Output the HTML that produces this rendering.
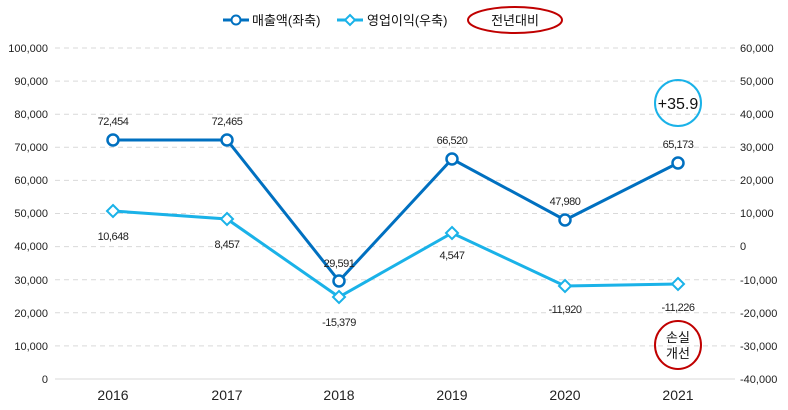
<!DOCTYPE html><html><head><meta charset="utf-8"><style>body{margin:0;background:#fff}svg{display:block;font-family:"Liberation Sans","Noto Sans CJK KR",sans-serif}</style></head><body>
<svg width="788" height="410" viewBox="0 0 788 410">
<g stroke="#d9d9d9" stroke-dasharray="5,4" stroke-width="1">
<line x1="55" x2="735" y1="48" y2="48"/><line x1="55" x2="735" y1="81.1" y2="81.1"/><line x1="55" x2="735" y1="114.2" y2="114.2"/><line x1="55" x2="735" y1="147.3" y2="147.3"/><line x1="55" x2="735" y1="180.4" y2="180.4"/><line x1="55" x2="735" y1="213.5" y2="213.5"/><line x1="55" x2="735" y1="246.6" y2="246.6"/><line x1="55" x2="735" y1="279.7" y2="279.7"/><line x1="55" x2="735" y1="312.8" y2="312.8"/><line x1="55" x2="735" y1="345.9" y2="345.9"/>
</g>
<line x1="55" x2="735" y1="379" y2="379" stroke="#d9d9d9"/>
<g font-size="11" fill="#222" text-anchor="end">
<text x="48" y="52">100,000</text><text x="48" y="85">90,000</text><text x="48" y="118">80,000</text><text x="48" y="151">70,000</text><text x="48" y="184">60,000</text><text x="48" y="217">50,000</text><text x="48" y="250">40,000</text><text x="48" y="284">30,000</text><text x="48" y="317">20,000</text><text x="48" y="350">10,000</text><text x="48" y="383">0</text>
</g>
<g font-size="11" fill="#222">
<text x="740" y="52">60,000</text><text x="740" y="85">50,000</text><text x="740" y="118">40,000</text><text x="740" y="151">30,000</text><text x="740" y="184">20,000</text><text x="740" y="217">10,000</text><text x="740" y="250">0</text><text x="740" y="284">-10,000</text><text x="740" y="317">-20,000</text><text x="740" y="350">-30,000</text><text x="740" y="383">-40,000</text>
</g>
<g font-size="14" fill="#222" text-anchor="middle">
<text x="113" y="400">2016</text><text x="227" y="400">2017</text><text x="339" y="400">2018</text><text x="452" y="400">2019</text><text x="565" y="400">2020</text><text x="678" y="400">2021</text>
</g>
<polyline points="113,140 227,140 339,281 452,159 565,220 678,163" fill="none" stroke="#0070c0" stroke-width="3"/>
<g fill="#fff" stroke="#0070c0" stroke-width="2.5">
<circle cx="113" cy="140" r="5.5"/><circle cx="227" cy="140" r="5.5"/><circle cx="339" cy="281" r="5.5"/><circle cx="452" cy="159" r="5.5"/><circle cx="565" cy="220" r="5.5"/><circle cx="678" cy="163" r="5.5"/>
</g>
<polyline points="113,211 227,219 339,297 452,233 565,286 678,284" fill="none" stroke="#1ab2e8" stroke-width="3"/>
<g fill="#fff" stroke="#1ab2e8" stroke-width="2">
<path d="M113,205 l6,6 -6,6 -6,-6z"/><path d="M227,213 l6,6 -6,6 -6,-6z"/><path d="M339,291 l6,6 -6,6 -6,-6z"/><path d="M452,227 l6,6 -6,6 -6,-6z"/><path d="M565,280 l6,6 -6,6 -6,-6z"/><path d="M678,278 l6,6 -6,6 -6,-6z"/>
</g>
<g font-size="11" fill="#222" text-anchor="middle" letter-spacing="-0.5">
<text x="113" y="125">72,454</text><text x="227" y="125">72,465</text><text x="339" y="267">29,591</text><text x="452" y="144">66,520</text><text x="565" y="205">47,980</text><text x="678" y="148">65,173</text>
<text x="113" y="240">10,648</text><text x="227" y="248">8,457</text><text x="339" y="326">-15,379</text><text x="452" y="259">4,547</text><text x="565" y="313">-11,920</text><text x="678" y="311">-11,226</text>
</g>
<circle cx="678" cy="103" r="23" fill="none" stroke="#1ab2e8" stroke-width="2"/>
<text x="678" y="109" font-size="16" text-anchor="middle" fill="#111">+35.9</text>
<ellipse cx="678" cy="345" rx="23" ry="24" fill="none" stroke="#c00000" stroke-width="2"/>
<text x="678" y="342" font-size="13" text-anchor="middle" fill="#111">손실</text>
<text x="678" y="358" font-size="13" text-anchor="middle" fill="#111">개선</text>
<line x1="223" x2="249" y1="20" y2="20" stroke="#0070c0" stroke-width="3"/><circle cx="236" cy="20" r="4.5" fill="#fff" stroke="#0070c0" stroke-width="2"/>
<text x="252" y="25" font-size="13" fill="#111">매출액(좌축)</text>
<line x1="337" x2="363" y1="20" y2="20" stroke="#1ab2e8" stroke-width="3"/><path d="M350,15 l5,5 -5,5 -5,-5z" fill="#fff" stroke="#1ab2e8" stroke-width="2"/>
<text x="367" y="25" font-size="13" fill="#111">영업이익(우축)</text>
<ellipse cx="515" cy="20" rx="47" ry="13" fill="none" stroke="#c00000" stroke-width="2"/>
<text x="515" y="25" font-size="13" text-anchor="middle" fill="#111">전년대비</text>
</svg></body></html>
